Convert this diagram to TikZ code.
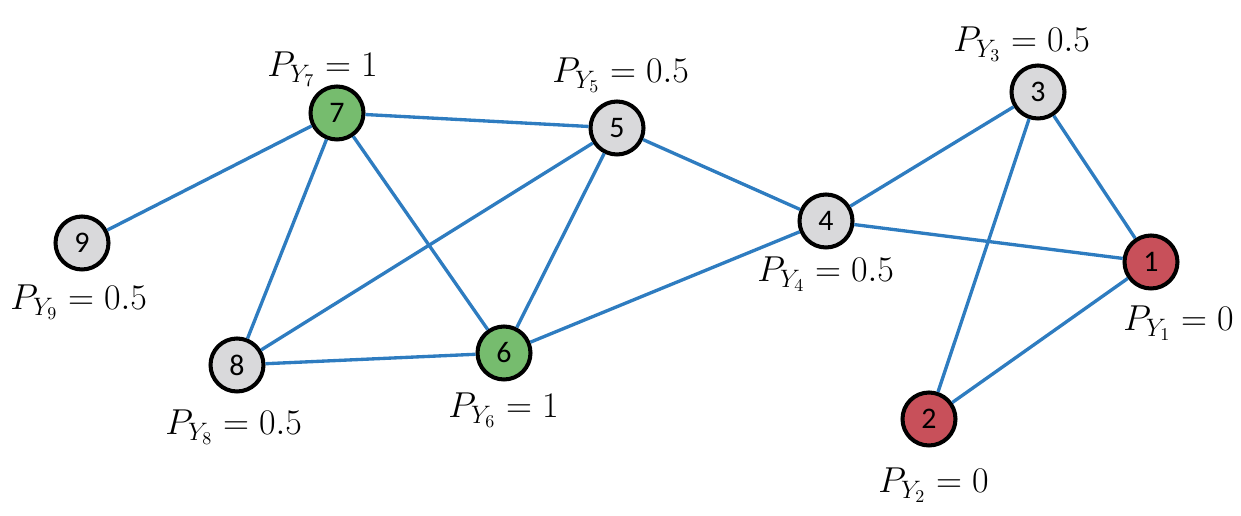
\RequirePackage{fix-cm}
\documentclass[tikz,border=0pt]{standalone}
\usepackage{fontspec}
\usepackage{xcolor}
\newfontfamily\numfont{Carlito}
\definecolor{edgeblue}{HTML}{2E7CC0}
\definecolor{vgreen}{HTML}{76BC6E}
\definecolor{vred}{HTML}{C8505A}
\definecolor{vgrey}{HTML}{D9D9DB}

\begin{document}
\begin{tikzpicture}[x=0.02cm,y=-0.02cm,
    vtx/.style={circle,draw=black,line width=2.3pt,minimum size=1.06cm,
      inner sep=0pt,font=\numfont\fontsize{17}{17}\selectfont},
    known/.style={vtx,fill=vgreen},
    zero/.style={vtx,fill=vred},
    open/.style={vtx,fill=vgrey},
    prob/.style={anchor=base west,inner sep=0pt,font=\fontsize{20.5}{21}\selectfont},
    link/.style={draw=edgeblue,line width=1.9pt}]
  \useasboundingbox (0,0) rectangle (1241,516);

  % vertices
  \node (v7) [known] at (337,113) {7};
  \node (v5) [open] at (617,128) {5};
  \node (v9) [open] at (82,243) {9};
  \node (v8) [open] at (237,365) {8};
  \node (v6) [known] at (504,353) {6};
  \node (v4) [open] at (826,221) {4};
  \node (v3) [open] at (1038,92) {3};
  \node (v1) [zero] at (1151,262) {1};
  \node (v2) [zero] at (929,419) {2};

  % edges
  \draw[link] (v7) -- (v9);
  \draw[link] (v7) -- (v5);
  \draw[link] (v7) -- (v8);
  \draw[link] (v7) -- (v6);
  \draw[link] (v5) -- (v8);
  \draw[link] (v5) -- (v6);
  \draw[link] (v5) -- (v4);
  \draw[link] (v8) -- (v6);
  \draw[link] (v6) -- (v4);
  \draw[link] (v4) -- (v3);
  \draw[link] (v4) -- (v1);
  \draw[link] (v3) -- (v1);
  \draw[link] (v3) -- (v2);
  \draw[link] (v1) -- (v2);

  % labels
  \node (p7) [prob] at (267,77) {$P_{Y_7} = 1$};
  \node (p5) [prob] at (552,83) {$P_{Y_5} = 0.5$};
  \node (p3) [prob] at (953,52) {$P_{Y_3} = 0.5$};
  \node (p9) [prob] at (10,310) {$P_{Y_9} = 0.5$};
  \node (p4) [prob] at (757,282) {$P_{Y_4} = 0.5$};
  \node (p1) [prob] at (1123,331) {$P_{Y_1} = 0$};
  \node (p8) [prob] at (165,435) {$P_{Y_8} = 0.5$};
  \node (p6) [prob] at (448,418) {$P_{Y_6} = 1$};
  \node (p2) [prob] at (878,493) {$P_{Y_2} = 0$};
\end{tikzpicture}
\end{document}
